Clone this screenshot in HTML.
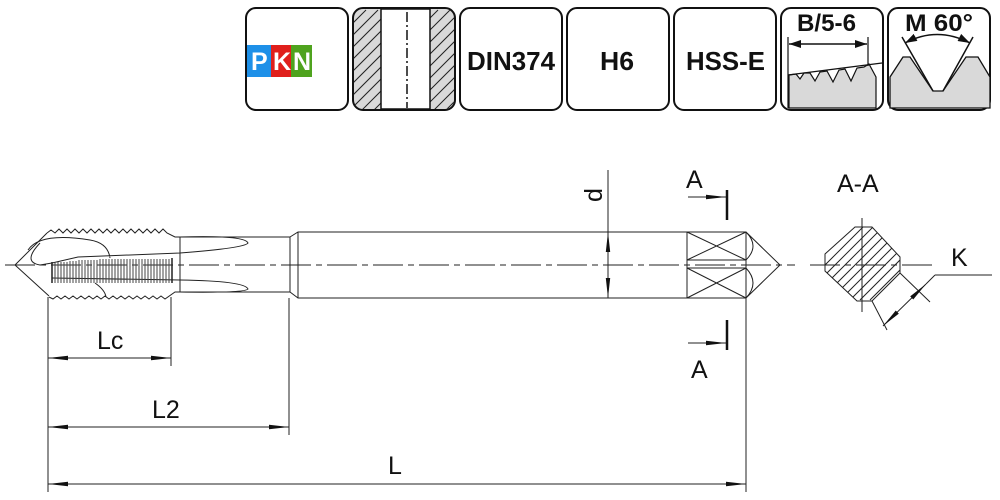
<!DOCTYPE html>
<html><head><meta charset="utf-8"><style>
html,body{margin:0;padding:0;background:#fff}
svg{display:block}
text{font-family:"Liberation Sans",Arial,sans-serif}
</style></head><body>
<svg width="1000" height="500" viewBox="0 0 1000 500" xmlns="http://www.w3.org/2000/svg">
<defs>
<marker id="ar" viewBox="0 0 20 6" refX="20" refY="3" markerWidth="20" markerHeight="6" markerUnits="userSpaceOnUse" orient="auto-start-reverse"><path d="M0,0.8 L20,3 L0,5.2z" fill="#111"/></marker>
<marker id="ar2" viewBox="0 0 12 8" refX="12" refY="4" markerWidth="12" markerHeight="8" markerUnits="userSpaceOnUse" orient="auto-start-reverse"><path d="M0,0 L12,4 L0,8z" fill="#111"/></marker>
<clipPath id="c2"><rect x="354" y="9" width="100" height="100" rx="9"/></clipPath>
<clipPath id="c8"><polygon points="825,254 855,227 872,227 900,257 900,273 872,301 857,301 825,271"/></clipPath>
</defs>
<g fill="#fff" stroke="#111" stroke-width="2">
<rect x="246" y="8" width="102" height="102" rx="10"/>
<rect x="353" y="8" width="102" height="102" rx="10" fill="#d9d9d9"/>
<rect x="460" y="8" width="102" height="102" rx="10"/>
<rect x="567" y="8" width="102" height="102" rx="10"/>
<rect x="674" y="8" width="102" height="102" rx="10"/>
<rect x="781" y="8" width="102" height="102" rx="10"/>
<rect x="888" y="8" width="102" height="102" rx="10"/>
</g>
<g clip-path="url(#c2)" stroke="#222" stroke-width="1">
<path d="M254,110 l100,-100 M266,110 l100,-100 M278,110 l100,-100 M290,110 l100,-100 M302,110 l100,-100 M314,110 l100,-100 M326,110 l100,-100 M338,110 l100,-100 M350,110 l100,-100 M362,110 l100,-100 M374,110 l100,-100 M386,110 l100,-100 M398,110 l100,-100 M410,110 l100,-100 M422,110 l100,-100 M434,110 l100,-100 M446,110 l100,-100"/>
</g>
<rect x="381" y="9" width="49" height="100" fill="#fff" stroke="#111" stroke-width="1.5"/>
<line x1="407" y1="12" x2="407" y2="108" stroke="#111" stroke-width="1.5" stroke-dasharray="10,3,2,3"/>
<rect x="247" y="45" width="24" height="32" fill="#1e90e8"/>
<rect x="271" y="45" width="20" height="32" fill="#e0201c"/>
<rect x="291" y="45" width="21" height="32" fill="#4fa31e"/>
<g font-weight="bold" font-size="25" fill="#fff"><text x="251" y="70">P</text><text x="273" y="70">K</text><text x="293" y="70">N</text></g>
<g font-weight="bold" font-size="26" fill="#111">
<text x="467" y="70" textLength="88" lengthAdjust="spacingAndGlyphs">DIN374</text>
<text x="600" y="70" textLength="34" lengthAdjust="spacingAndGlyphs">H6</text>
<text x="686" y="70" textLength="79" lengthAdjust="spacingAndGlyphs">HSS-E</text>
<text x="797" y="31" font-size="24" textLength="59" lengthAdjust="spacingAndGlyphs">B/5-6</text>
<text x="905" y="31" font-size="24" textLength="68" lengthAdjust="spacingAndGlyphs">M 60°</text></g>
<path d="M789,75 L796,74 L800,79 L804,73 L810,73 L815,81 L820,72 L827,71 L833,82 L839,70 L845,69 L851,81 L857,68 L864,67 L869,64 L876,77 L876,108 L789,108 Z" fill="#d9d9d9" stroke="#111" stroke-width="1.2"/>
<line x1="788" y1="75" x2="882" y2="63" stroke="#111" stroke-width="1.3"/>
<line x1="788" y1="37" x2="788" y2="108" stroke="#111" stroke-width="1.2"/>
<line x1="868" y1="37" x2="868" y2="66" stroke="#111" stroke-width="1.2"/>
<line x1="789" y1="44" x2="867" y2="44" stroke="#111" stroke-width="1.5" marker-start="url(#ar2)" marker-end="url(#ar2)"/>
<path d="M890,108 L890,77 L903,57 L910,57 L933,91 L943,91 L966,57 L978,57 L990,77 L990,108 Z" fill="#d9d9d9" stroke="#111" stroke-width="1.3"/>
<path d="M902,37 L933,91 M943,91 L973,37" stroke="#111" stroke-width="1.5" fill="none"/>
<path d="M905,43 Q937,26 970,43" stroke="#111" stroke-width="1.5" fill="none" marker-start="url(#ar2)" marker-end="url(#ar2)"/>

<g stroke="#222" stroke-width="1" fill="none">
<line x1="5" y1="265" x2="795" y2="265" stroke-dasharray="30,5,6,5"/>
<line x1="810" y1="265" x2="935" y2="265" stroke-dasharray="30,5,6,5"/>
<path d="M15,265 L47,233 M15,265 L49,296"/>
<path d="M47,233 l4,-3 l4,3 l4,-4 l4,4 l4,-4 l4,4 l4,-4 l4,4 l4,-4 l4,4 l4,-4 l4,4 l4,-4 l4,4 l4,-4 l4,4 l4,-4 l4,4 l4,-4 l4,4 l4,-4 l4,4 l4,-4 l4,4 l4,-4 l4,4 l4,-4 l4,4 l4,-4 l4,4 l8,4 L290,237"/>
<path d="M49,297 l4,2 l4,-3 l4,3 l4,-3 l4,3 l4,-3 l4,3 l4,-3 l4,3 l4,-3 l4,3 l4,-3 l4,3 l4,-3 l4,3 l4,-3 l4,3 l4,-3 l4,3 l4,-3 l4,3 l4,-3 l4,3 l4,-3 l4,3 l4,-3 l4,3 l4,-3 l4,3 L175,292 L290,292"/>
<line x1="180" y1="237" x2="180" y2="292"/>
<path d="M28,250 Q40,232 90,240 Q108,243 110,258 M40,243 Q22,262 40,265 L52,263 L78,257 L180,253 Q245,248 248,243 Q245,235 180,237"/>
<path d="M52,278 L180,280 Q245,281 248,289 Q245,293 180,292 M95,283 Q105,290 106,297"/>
<path d="M52,262 L52,283 M172,258 L172,283" stroke-width="1.5"/>
<path d="M55,262 V283 M58,262 V283 M61,262 V283 M64,262 V283 M67,262 V283 M70,261 V283 M73,261 V283 M76,261 V283 M79,260 V283 M82,260 V283 M85,260 V283 M88,260 V283 M91,260 V283 M94,260 V283 M97,260 V283 M100,259 V283 M103,259 V283 M106,259 V283 M109,259 V283 M112,259 V283 M115,259 V283 M118,259 V283 M121,259 V283 M124,259 V283 M127,259 V283 M130,259 V283 M133,259 V283 M136,259 V283 M139,259 V283 M142,259 V283 M145,259 V283 M148,259 V283 M151,259 V283 M154,259 V283 M157,259 V283 M160,259 V283 M163,259 V283 M166,259 V283 M169,259 V283" stroke="#444"/>
<path d="M290,237 L290,292 M290,237 L298,232 L687,232 M290,292 L298,298 L687,298 M298,232 L298,298"/>
<rect x="687" y="232" width="59" height="66"/>
<line x1="687" y1="260" x2="746" y2="260"/><line x1="687" y1="268" x2="746" y2="268"/>
<path d="M687,232 L746,260 M687,260 L746,232 M687,268 L746,298 M687,298 L746,268"/>
<path d="M746,232 L780,265 L746,298 M746,232 Q760,246 746,260 M746,268 Q760,283 746,298"/>
<line x1="608" y1="170" x2="608" y2="232"/>
<line x1="608" y1="232" x2="608" y2="298" marker-start="url(#ar)" marker-end="url(#ar)"/>
<line x1="48" y1="297" x2="48" y2="492"/><line x1="171" y1="297" x2="171" y2="366"/>
<line x1="289" y1="298" x2="289" y2="435"/><line x1="746" y1="298" x2="746" y2="492"/>
<line x1="48" y1="358" x2="171" y2="358" marker-start="url(#ar)" marker-end="url(#ar)"/>
<line x1="48" y1="427" x2="289" y2="427" marker-start="url(#ar)" marker-end="url(#ar)"/>
<line x1="48" y1="484" x2="746" y2="484" marker-start="url(#ar)" marker-end="url(#ar)"/>
<line x1="688" y1="197" x2="726" y2="197" marker-end="url(#ar)"/>
<line x1="688" y1="343" x2="726" y2="343" marker-end="url(#ar)"/>
<g clip-path="url(#c8)"><path d="M790,300 l80,-80 M800,300 l80,-80 M810,300 l80,-80 M820,300 l80,-80 M830,300 l80,-80 M840,300 l80,-80 M850,300 l80,-80 M860,300 l80,-80 M870,300 l80,-80 M880,300 l80,-80 M890,300 l80,-80 M900,300 l80,-80 M910,300 l80,-80"/></g>
<polygon points="825,254 855,227 872,227 900,257 900,273 872,301 857,301 825,271"/>
<line x1="862" y1="218" x2="862" y2="312"/>
<path d="M900,273 L930,302 M872,301 L887,330"/>
<line x1="883" y1="326" x2="926" y2="284" marker-start="url(#ar)" marker-end="url(#ar)"/>
<line x1="926" y1="284" x2="935" y2="275"/><line x1="935" y1="275" x2="992" y2="275"/>
</g>
<g stroke="#111" stroke-width="2.5"><line x1="727" y1="190" x2="727" y2="220"/><line x1="727" y1="320" x2="727" y2="350"/></g>
<g font-size="25" fill="#111">
<text x="686" y="188">A</text><text x="691" y="378">A</text><text x="837" y="192">A-A</text>
<text x="951" y="266">K</text><text x="97" y="349">Lc</text><text x="152" y="418">L2</text><text x="388" y="474">L</text>
<text transform="translate(602,202) rotate(-90)">d</text>
</g>
</svg>
</body></html>
